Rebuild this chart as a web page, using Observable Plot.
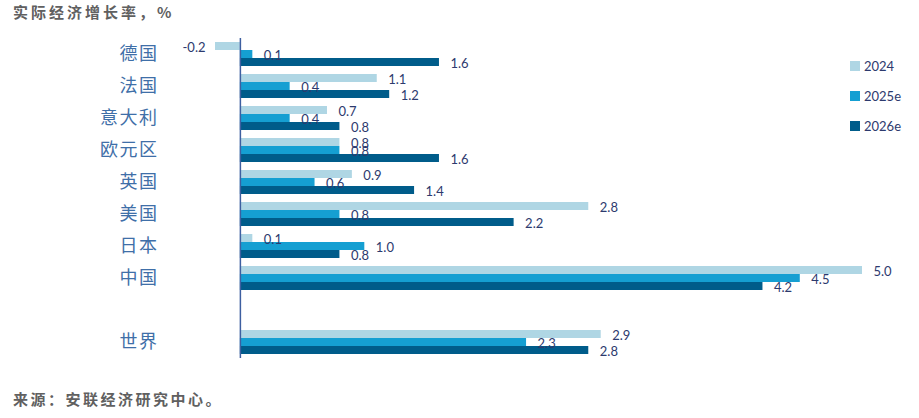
<!DOCTYPE html>
<html>
<head>
<meta charset="utf-8">
<script src="https://cdn.jsdelivr.net/npm/d3@7"></script>
<script src="https://cdn.jsdelivr.net/npm/@observablehq/plot@0.6"></script>
<style>
  body { margin: 0; background: #fff; width: 919px; height: 418px; overflow: hidden; }
  #wrap { position: relative; width: 919px; height: 418px; }
  #title { height: 28px; padding-left: 13px; font: bold 15px "Noto Sans CJK SC", sans-serif; letter-spacing: 3px; line-height: 23px; color: #606060; }
  #caption { padding-left: 13px; padding-top: 17px; font: bold 15px "Noto Sans CJK SC", sans-serif; letter-spacing: 2.5px; line-height: 20px; color: #606060; }
  #chart svg { display: block; }
  #legend { position: absolute; left: 850px; top: 51px; font: 13px Lato, sans-serif; color: #2d3a6e; }
  #legend div { height: 30px; display: flex; align-items: center; }
  #legend span.sw { display: inline-block; width: 10px; height: 10px; margin-right: 4px; }
  [aria-label^="fy-axis"] text { letter-spacing: 1.5px; }
</style>
</head>
<body>
<div id="wrap">
  <div id="title">实际经济增长率，%</div>
  <div id="chart"></div>
  <div id="caption">来源：安联经济研究中心。</div>
  <div id="legend"></div>
</div>
<script>
const countries = ["德国", "法国", "意大利", "欧元区", "英国", "美国", "日本", "中国", " ", "世界"];
const seriesNames = ["2024", "2025e", "2026e"];
const colors = ["#afd6e4", "#159fd2", "#005c8a"];
const v2024  = [-0.2, 1.1, 0.7, 0.8, 0.9, 2.8, 0.1, 5.0, null, 2.9];
const v2025e = [0.1, 0.4, 0.4, 0.8, 0.6, 0.8, 1.0, 4.5, null, 2.3];
const v2026e = [1.6, 1.2, 0.8, 1.6, 1.4, 2.2, 0.8, 4.2, null, 2.8];

const seriesValues = [v2024, v2025e, v2026e];
const data = [];
countries.forEach((c, i) => {
  seriesNames.forEach((s, j) => {
    const v = seriesValues[j][i];
    if (v != null) data.push({country: c, series: s, value: v});
  });
});
const axisRows = countries.map(c => ({country: c}));

const plot = Plot.plot({
  width: 919,
  height: 344,
  marginTop: 6,
  marginBottom: 10,
  marginLeft: 215,
  marginRight: 57,
  style: {fontFamily: "'Noto Sans CJK SC', sans-serif", fontSize: "18px", color: "#3f6fa8", background: "transparent"},
  x: {domain: [-0.2, 5.0], axis: null},
  y: {domain: seriesNames, padding: 0, axis: null},
  fy: {domain: countries, paddingInner: 0.25, paddingOuter: 0.25, label: null, tickSize: 0, tickPadding: 57},
  color: {domain: seriesNames, range: colors},
  marks: [
    Plot.barX(data, {x: "value", y: "series", fy: "country", fill: "series"}),
    Plot.ruleX(axisRows, {x: () => 0, fy: "country", stroke: "#3d5fa0", strokeWidth: 1.5, insetTop: -4, insetBottom: -4}),
    Plot.text(data.filter(d => d.value >= 0), {x: "value", y: "series", fy: "country", text: d => d.value.toFixed(1), textAnchor: "start", dx: 11, dy: 1, fill: "#2d3a6e", fontSize: 13, fontFamily: "Lato, sans-serif"}),
    Plot.text(data.filter(d => d.value < 0), {x: "value", y: "series", fy: "country", text: d => d.value.toFixed(1), textAnchor: "end", dx: -10, dy: 1, fill: "#2d3a6e", fontSize: 13, fontFamily: "Lato, sans-serif"})
  ]
});
document.getElementById("chart").appendChild(plot);

const legend = document.getElementById("legend");
seriesNames.forEach((s, j) => {
  const row = document.createElement("div");
  const sw = document.createElement("span");
  sw.className = "sw";
  sw.style.background = colors[j];
  row.appendChild(sw);
  row.appendChild(document.createTextNode(s));
  legend.appendChild(row);
});
</script>
</body>
</html>
